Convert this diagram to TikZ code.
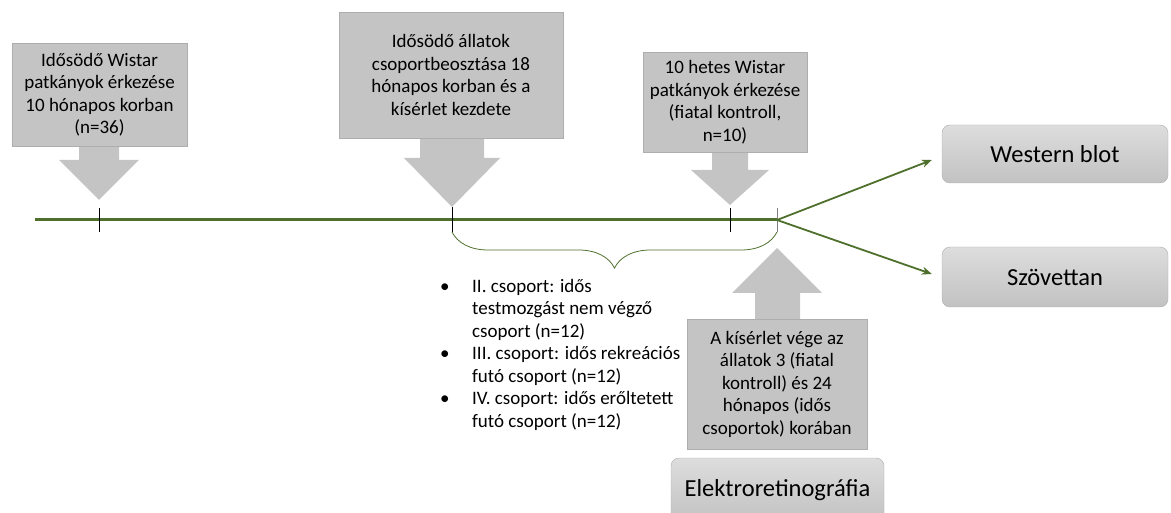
\documentclass[tikz,border=0pt]{standalone}
\usepackage{fontspec}
\setmainfont{Carlito}
\usetikzlibrary{arrows.meta,positioning,decorations.pathreplacing}
\definecolor{tlgreen}{HTML}{4F6F2C}
\definecolor{callgrey}{HTML}{C4C4C4}
\definecolor{calledge}{HTML}{AEAEAE}
\definecolor{boxtop}{HTML}{DDDDDD}
\definecolor{boxbot}{HTML}{C2C2C2}
\newcommand{\bul}{\makebox[32pt][l]{•}}

\begin{document}
\begin{tikzpicture}[x=1pt,y=-1pt,
  every node/.style={font=\fontsize{19}{22.5}\selectfont},
  callbox/.style={draw=calledge,fill=callgrey,align=center,inner sep=0pt},
  callarrow/.style={fill=callgrey},
  sidebox/.style={draw=calledge,rounded corners=8pt,top color=boxtop,bottom color=boxbot,
    font=\fontsize{24.5}{29}\selectfont},
  tickmark/.style={line width=0.9pt},
  timeline/.style={draw=tlgreen,line width=3pt},
  branch/.style={-{Stealth[length=10pt,width=8pt]},draw=tlgreen,line width=1.8pt},
  brace/.style={draw=tlgreen,line width=0.8pt,decorate,decoration={brace,mirror,amplitude=36pt}}]
\useasboundingbox (0,0) rectangle (1171,513);
% \draw[help lines,step=50] (0,0) grid (1171,513);
%
\fill[callarrow] (79,140) -- (79,160) -- (59,160) -- (99,200) -- (139,160) -- (119,160) -- (119,140) -- cycle;
\fill[callarrow] (420,130) -- (420,158) -- (404,158) -- (452,207) -- (500,158) -- (484,158) -- (484,130) -- cycle;
\fill[callarrow] (712,145) -- (712,170) -- (691,170) -- (730,205) -- (769,170) -- (748,170) -- (748,145) -- cycle;
\fill[callarrow] (755,325) -- (755,293) -- (732,293) -- (777,248) -- (822,293) -- (800,293) -- (800,325) -- cycle;
%
\node (c1) [callbox,minimum width=175,minimum height=103] at (99.5,94.5)
  {Idősödő Wistar\\patkányok érkezése\\10 hónapos korban\\(n=36)};
\node (c2) [callbox,minimum width=224,minimum height=126] at (451,75)
  {Idősödő állatok\\csoportbeosztása 18\\hónapos korban és a\\kísérlet kezdete};
\node (c3) [callbox,minimum width=164,minimum height=100] at (725,102)
  {10 hetes Wistar\\patkányok érkezése\\(fiatal kontroll,\\n=10)};
\node (c4) [callbox,minimum width=180,minimum height=130] at (777,384)
  {A kísérlet vége az\\állatok 3 (fiatal\\kontroll) és 24\\hónapos (idős\\csoportok) korában};
%
\node (wb) [sidebox,minimum width=226,minimum height=58] at (1055,154) {Western blot};
\node (sz) [sidebox,minimum width=226,minimum height=60] at (1055,277) {Szövettan};
\node (erg) [sidebox,minimum width=213,minimum height=64] at (777.5,490) {Elektroretinográfia};
%
\node (groups) [anchor=north west,align=left,inner sep=0pt] at (440,279)
  {\bul II. csoport: idős\\\hspace*{32pt}testmozgást nem végző\\\hspace*{32pt}csoport (n=12)\\
   \bul III. csoport: idős rekreációs\\\hspace*{32pt}futó csoport (n=12)\\
   \bul IV. csoport: idős erőltetett\\\hspace*{32pt}futó csoport (n=12)};
%
\coordinate (tlstart) at (35,220);
\coordinate (tlend) at (777,220);
\draw[timeline] (tlstart) -- (tlend);
\draw[tickmark] (99,208) -- (99,232);
\draw[tickmark] (452,207) -- (452,232);
\draw[tickmark] (730,208) -- (730,232);
\draw[tickmark,draw=gray] (777,208) -- (777,232);
\draw[brace] (452,232) -- (777,232);
%
\draw[branch] (tlend) -- ([xshift=-10pt,yshift=-6pt]wb.west);
\draw[branch] (tlend) -- ([xshift=-10pt,yshift=3pt]sz.west);
\end{tikzpicture}
\end{document}
